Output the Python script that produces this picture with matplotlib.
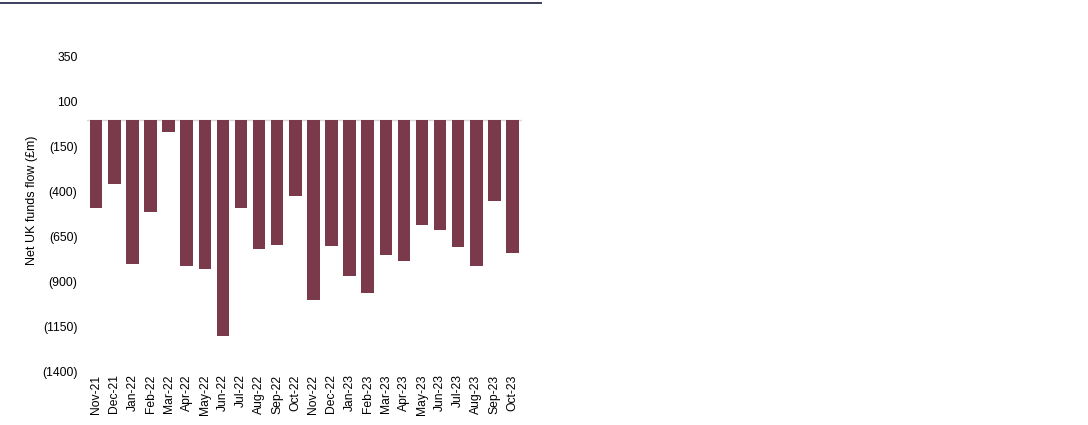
import numpy as np
import matplotlib
matplotlib.use("Agg")
import matplotlib.pyplot as plt
from matplotlib.lines import Line2D

plt.rcParams['font.family'] = ['Liberation Sans', 'DejaVu Sans']

# Monthly net UK funds flow (GBP m)
months = ["Nov-21", "Dec-21", "Jan-22", "Feb-22", "Mar-22", "Apr-22", "May-22",
          "Jun-22", "Jul-22", "Aug-22", "Sep-22", "Oct-22", "Nov-22", "Dec-22",
          "Jan-23", "Feb-23", "Mar-23", "Apr-23", "May-23", "Jun-23", "Jul-23",
          "Aug-23", "Sep-23", "Oct-23"]
flows = [-493, -359, -800, -512, -69, -812, -831, -1201, -493, -721, -694, -423,
         -1002, -702, -870, -965, -749, -784, -583, -613, -709, -814, -449, -739]
y_ticks = [350, 100, -150, -400, -650, -900, -1150, -1400]

bar_color = '#7b3a4c'

W, H = 1088, 425
fig = plt.figure(figsize=(W / 100, H / 100), dpi=100)
# axes box in pixels: left 87, right 521.5, top 56.7, bottom 371.7
ax = fig.add_axes([87.2 / W, 1 - 371.7 / H, 434.3 / W, 315 / H])

x = np.arange(len(months))
ax.bar(x, flows, width=0.69, color=bar_color, zorder=2)
ax.axhline(0, color='#d9d9d9', lw=1.0, zorder=1)

ax.set_xlim(-0.5, len(months) - 0.5)
ax.set_ylim(-1400, 350)
ax.set_yticks(y_ticks)
ax.set_yticklabels([str(v) if v >= 0 else "(%d)" % -v for v in y_ticks])
ax.set_xticks(x)
ax.set_xticklabels(months, rotation=90)
ax.tick_params(axis='both', length=0, labelsize=8.7, colors='black')
ax.tick_params(axis='y', pad=7)
ax.tick_params(axis='x', pad=2)
for s in ax.spines.values():
    s.set_visible(False)

ax.set_ylabel("Net UK funds flow (£m)", fontsize=9)
ax.yaxis.set_label_coords((38 - 87.2) / 434.3, (371.7 - 200) / 315)

# thin dark rule across the top
fig.add_artist(Line2D([0, 541 / W], [1 - 2.5 / H, 1 - 2.5 / H],
                      color='#3b3f5c', lw=1.4, transform=fig.transFigure))

fig.savefig("out.png", dpi=100)
